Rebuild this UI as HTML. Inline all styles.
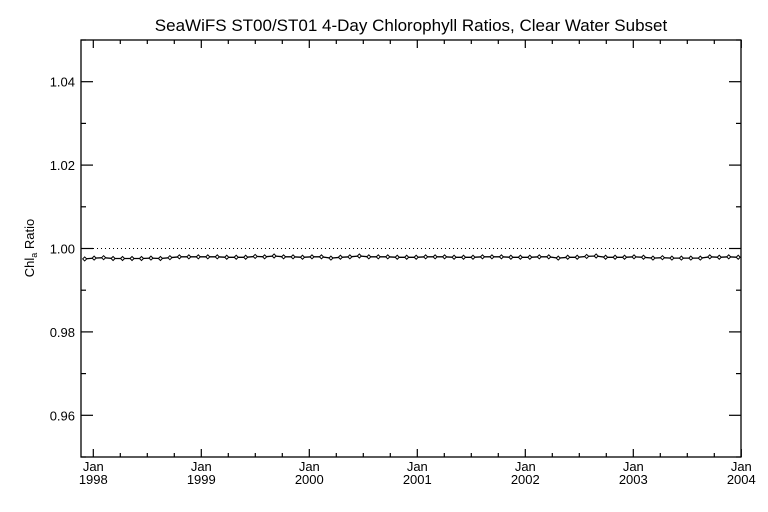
<!DOCTYPE html>
<html><head><meta charset="utf-8"><style>
body{margin:0;background:#fff;}
svg{display:block;font-family:"Liberation Sans",sans-serif;}
</style></head><body>
<svg id="chart" width="768" height="512" viewBox="0 0 768 512">
<rect width="768" height="512" fill="#fff"/>
<text x="411" y="31" font-size="17" text-anchor="middle" fill="#000">SeaWiFS ST00/ST01 4-Day Chlorophyll Ratios, Clear Water Subset</text>
<text transform="translate(34,248) rotate(-90)" font-size="13" text-anchor="middle" fill="#000">Chl<tspan font-size="9" dy="3">a</tspan><tspan dy="-3"> Ratio</tspan></text>
<g id="axes"></g>
<g id="marks"></g>
</svg>
<script>
const yTicks=[0.96,0.98,1.00,1.02,1.04];
const yTickLabels=["0.96","0.98","1.00","1.02","1.04"];
const xYears=[1998,1999,2000,2001,2002,2003,2004];
const xTickLabels=["1998","1999","2000","2001","2002","2003","2004"];
const startYear=1997.92;
const stepYear=0.0877;
const ratios=[0.9975,0.9977,0.9978,0.9976,0.9976,0.9976,0.9976,0.9977,0.9976,0.9978,0.9980,0.9980,0.9980,0.9980,0.9980,0.9979,0.9979,0.9979,0.9981,0.9980,0.9982,0.9980,0.9980,0.9979,0.9980,0.9980,0.9977,0.9979,0.9980,0.9982,0.9980,0.9980,0.9980,0.9979,0.9979,0.9979,0.9980,0.9980,0.9980,0.9979,0.9979,0.9979,0.9980,0.9980,0.9980,0.9979,0.9979,0.9979,0.9980,0.9980,0.9977,0.9979,0.9979,0.9981,0.9982,0.9979,0.9979,0.9979,0.9980,0.9979,0.9977,0.9978,0.9977,0.9977,0.9977,0.9977,0.9980,0.9979,0.9980,0.9979];
const L=81,R=741,T=40,B=457,yMin=0.95,yMax=1.05;
function xs(yr){return 93.3+(yr-1998)*108.0;}
function ys(v){return B-(v-yMin)/(yMax-yMin)*(B-T);}
const NS="http://www.w3.org/2000/svg";
function mk(tag,attrs,parent){const e=document.createElementNS(NS,tag);for(const k in attrs)e.setAttribute(k,attrs[k]);parent.appendChild(e);return e;}
const ax=document.getElementById('axes');
let f=mk('rect',{x:L,y:T,width:R-L,height:B-T,fill:'none',stroke:'#000','stroke-width':1.3},ax);


// y ticks: major and minor
for(let i=0;i<=10;i++){const v=yMin+i*0.01;const y=ys(v);const major=(i%2===1);const len=major?12:5;
 mk('line',{x1:L,y1:y,x2:L+len,y2:y,stroke:'#000','stroke-width':1.2},ax);
 mk('line',{x1:R,y1:y,x2:R-len,y2:y,stroke:'#000','stroke-width':1.2},ax);}
yTicks.forEach((v,i)=>{const t=mk('text',{x:L-6,y:ys(v)+5,'font-size':13,'text-anchor':'end',fill:'#000'},ax);t.textContent=yTickLabels[i];
 
 });
// x ticks
for(let q=0;q<=24;q++){const yr=1998+q*0.25;const x=xs(yr);if(x>R+0.5)continue;const major=(q%4===0);const len=major?8:4;
 mk('line',{x1:x,y1:B,x2:x,y2:B-len,stroke:'#000','stroke-width':1.2},ax);
 mk('line',{x1:x,y1:T,x2:x,y2:T+len,stroke:'#000','stroke-width':1.2},ax);}
{const x=xs(1997.75);if(x>L){mk('line',{x1:x,y1:B,x2:x,y2:B-4,stroke:'#000'},ax);}}
xYears.forEach((yr,i)=>{const x=xs(yr);
 const a=mk('text',{x:x,y:B+14,'font-size':13,'text-anchor':'middle',fill:'#000'},ax);a.textContent='Jan';
 
 
 const b=mk('text',{x:x,y:B+27,'font-size':13,'text-anchor':'middle',fill:'#000'},ax);b.textContent=xTickLabels[i];
 
 });
// reference line
const ref=mk('line',{x1:L,y1:ys(1.0),x2:R,y2:ys(1.0),stroke:'#000','stroke-width':1,'stroke-dasharray':'1,3'},ax);


// series
const mg=document.getElementById('marks');
const pts=ratios.map((v,i)=>[xs(startYear+i*stepYear),ys(v)]).filter(p=>p[0]<=R+1);
const pl=mk('polyline',{points:pts.map(p=>p[0].toFixed(1)+','+p[1].toFixed(1)).join(' '),fill:'none',stroke:'#000','stroke-width':1.3},mg);


pts.forEach(p=>{const d=mk('path',{d:`M${p[0]-2},${p[1]} L${p[0]},${p[1]-2} L${p[0]+2},${p[1]} L${p[0]},${p[1]+2} Z`,fill:'#fff',stroke:'#000','stroke-width':1},mg);
 
 });
</script>
</body></html>
